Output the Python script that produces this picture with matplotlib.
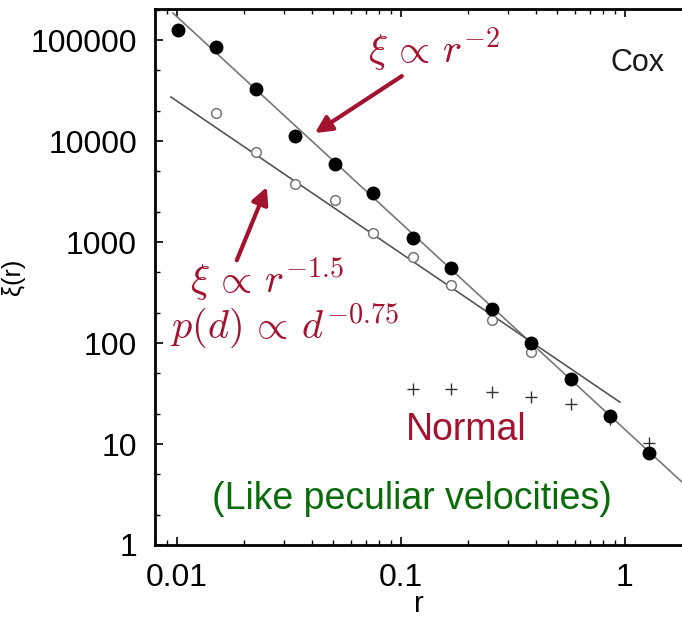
import matplotlib

matplotlib.use("Agg")
import matplotlib.pyplot as plt
from matplotlib.ticker import FixedLocator, LogLocator, NullFormatter

RED: str = "#a3122f"
GREEN: str = "#0b6b0b"

# clustered ("Cox") sample, filled circles
r_filled = [0.0101, 0.0149, 0.0225, 0.0336, 0.0507, 0.075, 0.113, 0.167, 0.255, 0.38, 0.574, 0.857, 1.28]
xi_filled = [126000, 85000, 32700, 11200, 5900, 3060, 1100, 555, 215, 100, 44, 19, 8.2]

# open symbols
r_open = [0.0149, 0.0225, 0.0336, 0.0507, 0.075, 0.113, 0.167, 0.255, 0.38]
xi_open = [18900, 7800, 3750, 2600, 1230, 710, 375, 170, 81]

# normal (poisson-like) sample, crosses
r_plus = [0.113, 0.167, 0.255, 0.38, 0.574, 0.857, 1.28]
xi_plus = [35, 35, 33, 29.5, 25, 17.5, 10.2]

# power-law guide lines, endpoints
fit2_r = [0.0096, 1.80]
fit2_xi = [185000, 4.2]
fit15_r = [0.0094, 0.95]
fit15_xi = [27300, 26]

plt.rcParams["mathtext.fontset"] = "cm"
plt.rcParams["font.family"] = ["Liberation Sans", "DejaVu Sans"]

fig = plt.figure(figsize=(6.82, 6.19), dpi=100)
ax = fig.add_axes([155 / 682, 74 / 619, 527 / 682, 536 / 619])
ax.set_xscale("log")
ax.set_yscale("log")
ax.set_xlim(0.00798, 1.80)
ax.set_ylim(1, 2.03e5)

ax.plot(fit2_r, fit2_xi, color="#777777", lw=1.2, zorder=2)
ax.plot(fit15_r, fit15_xi, color="#555555", lw=1.2, zorder=2)
ax.plot(r_open, xi_open, "o", ms=7, mfc="white", mec="#777777", mew=1.1, ls="none", zorder=3)
ax.plot(r_plus, xi_plus, "+", ms=9, color="#333333", mew=1.0, ls="none", zorder=3)
ax.plot(r_filled, xi_filled, "o", ms=9, color="black", ls="none", zorder=4)

for side in ["left", "bottom", "top"]:
    ax.spines[side].set_linewidth(2)
ax.spines["right"].set_visible(False)

ax.xaxis.set_major_locator(FixedLocator([0.01, 0.1, 1]))
ax.yaxis.set_major_locator(FixedLocator([1, 10, 100, 1000, 10000, 100000]))
ax.xaxis.set_minor_locator(LogLocator(base=10, subs=(2, 3, 4, 5, 6, 7, 8, 9)))
ax.yaxis.set_minor_locator(LogLocator(base=10, subs=(2, 5)))
ax.xaxis.set_minor_formatter(NullFormatter())
ax.yaxis.set_minor_formatter(NullFormatter())
ax.set_xticklabels(["0.01", "0.1", "1"])
ax.set_yticklabels(["1", "10", "100", "1000", "10000", "100000"])
ax.tick_params(which="both", direction="in", top=True, right=False, labelsize=23, colors="black")
ax.tick_params(which="major", length=6, width=1.2, pad=13)
ax.tick_params(which="minor", length=3.5, width=1.0)

ax.set_xlabel("r", fontsize=21, labelpad=-2)
ax.set_ylabel("ξ(r)", fontsize=18, labelpad=4)

fig.text(637 / 682, 1 - 63 / 619, "Cox", fontsize=22, color="#1a1a1a", ha="center", va="center")

ax.annotate(
    "", xy=(0.0413, 12000), xytext=(0.101, 44000),
    arrowprops=dict(arrowstyle="-|>", color=RED, lw=3, mutation_scale=25, shrinkA=0, shrinkB=0),
)
ax.annotate(
    "", xy=(0.0252, 3510), xytext=(0.0185, 660),
    arrowprops=dict(arrowstyle="-|>", color=RED, lw=3, mutation_scale=25, shrinkA=0, shrinkB=0),
)

fig.text(368 / 682, 1 - 63 / 619, r"$\xi\, \propto\, r^{-2}$", fontsize=29, color=RED, ha="left", va="baseline")
fig.text(190 / 682, 1 - 293 / 619, r"$\xi\, \propto\, r^{-1.5}$", fontsize=29, color=RED, ha="left", va="baseline")
fig.text(170 / 682, 1 - 338 / 619, r"$p(d)\, \propto\, d^{-0.75}$", fontsize=29, color=RED, ha="left", va="baseline")
fig.text(466 / 682, 1 - 440 / 619, "Normal", fontsize=27, color=RED, ha="center", va="baseline")
fig.text(412 / 682, 1 - 509 / 619, "(Like peculiar velocities)", fontsize=27, color=GREEN, ha="center", va="baseline")

fig.savefig("out.png", dpi=100)
